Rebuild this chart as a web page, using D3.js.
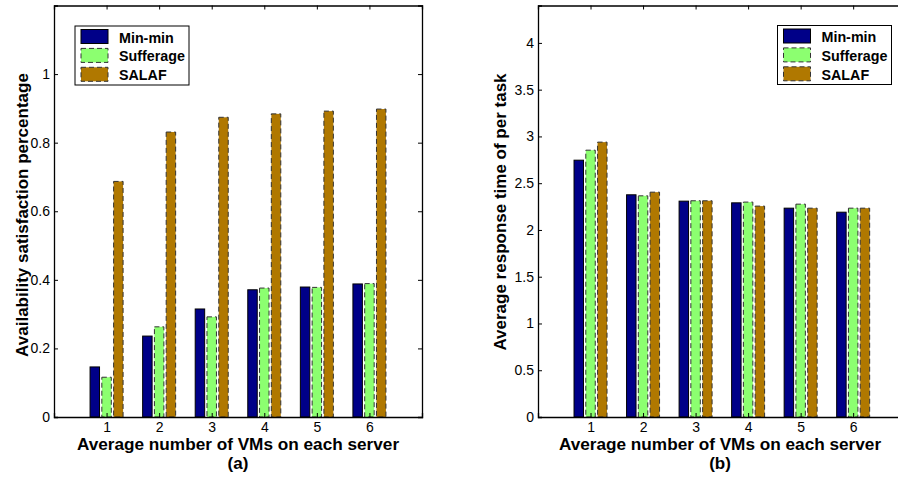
<!DOCTYPE html>
<html>
<head>
<meta charset="utf-8">
<script src="https://cdn.jsdelivr.net/npm/d3@7"></script>
<style>
  html, body { margin: 0; padding: 0; background: #fff; }
  svg { display: block; }
  text { font-family: "Liberation Sans", Arial, Helvetica, sans-serif; }
</style>
</head>
<body>
<svg id="chart" width="898" height="477"></svg>
<script>
// Categories: average number of VMs per server
const categories = [1, 2, 3, 4, 5, 6];
const seriesNames = ["Min-min", "Sufferage", "SALAF"];

// (a) availability satisfaction percentage
const availMinMin    = [0.146, 0.236, 0.315, 0.371, 0.379, 0.388];
const availSufferage = [0.116, 0.263, 0.292, 0.376, 0.378, 0.389];
const availSALAF     = [0.687, 0.831, 0.874, 0.884, 0.892, 0.898];

// (b) average response time per task
const respMinMin    = [2.746, 2.376, 2.308, 2.290, 2.233, 2.190];
const respSufferage = [2.853, 2.365, 2.312, 2.298, 2.276, 2.233];
const respSALAF     = [2.939, 2.404, 2.312, 2.255, 2.233, 2.233];

const availTicks = [0, 0.2, 0.4, 0.6, 0.8, 1];
const respTicks  = [0, 0.5, 1, 1.5, 2, 2.5, 3, 3.5, 4];

const colors = ["#000088", "#8cff70", "#b07800"];
const dashes = [null, "5,3", "5,3"];
const edgeColors = ["#000000", "#333333", "#333333"];

const svg = d3.select("#chart");

function drawPanel(opt) {
  const x = d3.scaleLinear().domain([0, 7]).range([opt.left, opt.right]);
  const y = d3.scaleLinear().domain([0, opt.yMax]).range([opt.bottom, opt.top]);
  const g = svg.append("g");

  // grouped bars: three series side by side around each category
  const offset = 0.224, barW = 0.18;
  opt.series.forEach((vals, si) => {
    g.append("g").selectAll("rect")
      .data(categories.map((c, i) => ({ c, v: vals[i] })))
      .join("rect")
      .attr("x", d => x(d.c + (si - 1) * offset - barW / 2))
      .attr("width", x(barW) - x(0))
      .attr("y", d => y(d.v))
      .attr("height", d => y(0) - y(d.v))
      .attr("fill", colors[si])
      .attr("stroke", edgeColors[si])
      .attr("stroke-width", 1)
      .attr("stroke-dasharray", dashes[si]);
  });

  // boxed axes with inward ticks
  const fmt = d3.format("~g");
  const left = g.append("g").attr("transform", `translate(${opt.left},0)`)
    .call(d3.axisLeft(y).tickValues(opt.ticks).tickFormat(fmt).tickSize(-4).tickPadding(4));
  const bottom = g.append("g").attr("transform", `translate(0,${opt.bottom})`)
    .call(d3.axisBottom(x).tickValues(categories).tickFormat(fmt).tickSize(-4).tickPadding(5.5));
  const top = g.append("g").attr("transform", `translate(0,${opt.top})`)
    .call(d3.axisTop(x).tickValues(categories).tickFormat("").tickSize(-4));
  const right = g.append("g").attr("transform", `translate(${opt.right},0)`)
    .call(d3.axisRight(y).tickValues(opt.ticks).tickFormat("").tickSize(-4));
  [left, bottom, top, right].forEach(a => {
    a.select(".domain").attr("stroke", "#000").attr("stroke-width", 1.3);
    a.selectAll(".tick line").attr("stroke", "#000");
    a.selectAll("text").attr("font-size", 14).attr("fill", "#000")
      .style("font-family", "'Liberation Sans', Arial, sans-serif");
  });

  // axis titles
  g.append("text").attr("x", opt.xLabelX).attr("y", 450)
    .attr("text-anchor", "middle").attr("font-size", 17.2).attr("font-weight", "bold")
    .text("Average number of VMs on each server");
  g.append("text").attr("x", opt.xLabelX).attr("y", 469)
    .attr("text-anchor", "middle").attr("font-size", 17).attr("font-weight", "bold")
    .text(opt.panel);
  g.append("text")
    .attr("transform", `translate(${opt.yLabelX},${opt.yLabelY}) rotate(-90)`)
    .attr("text-anchor", "middle").attr("font-size", 17).attr("font-weight", "bold")
    .text(opt.yLabel);

  // legend
  const lg = g.append("g").attr("transform", `translate(${opt.legendX},${opt.legendY})`);
  lg.append("rect").attr("x", 0).attr("y", 0).attr("width", opt.legendW).attr("height", 59)
    .attr("fill", "#fff").attr("stroke", "#000").attr("stroke-width", 1);
  seriesNames.forEach((name, i) => {
    lg.append("rect").attr("x", 6).attr("y", 3.5 + i * 18.9).attr("width", 27).attr("height", 14)
      .attr("fill", colors[i]).attr("stroke", edgeColors[i]).attr("stroke-width", 1)
      .attr("stroke-dasharray", dashes[i]);
    lg.append("text").attr("x", 44).attr("y", 16.5 + i * 18.9)
      .attr("font-size", 14.3).attr("font-weight", "bold").text(name);
  });
}

drawPanel({
  left: 54, right: 422, top: 5.5, bottom: 417, yMax: 1.2,
  ticks: availTicks,
  series: [availMinMin, availSufferage, availSALAF],
  panel: "(a)", yLabel: "Availability satisfaction percentage",
  xLabelX: 238, yLabelX: 28, yLabelY: 215,
  legendX: 75, legendY: 26, legendW: 114
});

drawPanel({
  left: 538, right: 905.7, top: 5.5, bottom: 417, yMax: 4.4,
  ticks: respTicks,
  series: [respMinMin, respSufferage, respSALAF],
  panel: "(b)", yLabel: "Average response time of per task",
  xLabelX: 720, yLabelX: 506, yLabelY: 212,
  legendX: 777.5, legendY: 25.5, legendW: 114
});
</script>
</body>
</html>
